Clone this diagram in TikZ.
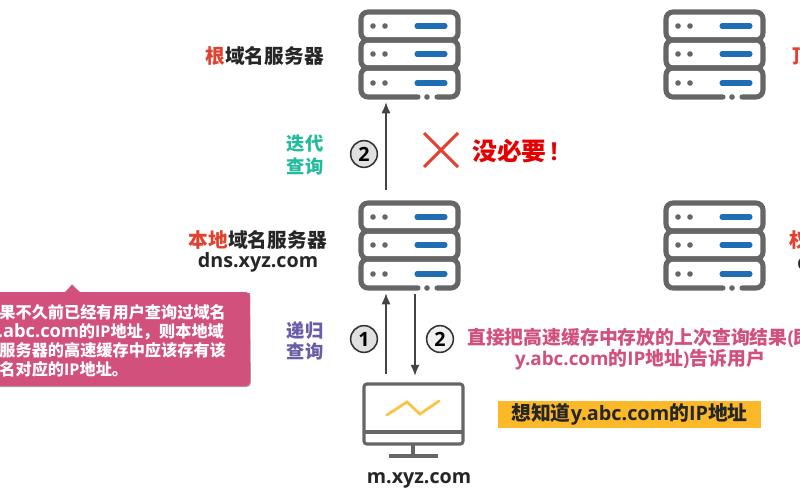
\documentclass[tikz,border=0pt]{standalone}
\usepackage{fontspec}
\usetikzlibrary{arrows.meta}
\setmainfont{Open Sans}
\newfontfamily\cjk{Noto Sans CJK SC}
\newcommand{\zh}[1]{{\cjk #1}}
\definecolor{srvgray}{HTML}{666666}
\definecolor{srvblue}{HTML}{1F6DB4}
\definecolor{hlred}{HTML}{E2412F}
\definecolor{pinkbox}{HTML}{D2507C}
\definecolor{tealtext}{HTML}{22BC9C}
\definecolor{purpletext}{HTML}{6A5CA5}
\definecolor{yellowbox}{HTML}{FBB829}
\definecolor{arrowgray}{HTML}{444444}
\tikzset{
    srvline/.style={line width=3.6pt,draw=srvgray,line cap=round},
    lbl/.style={font=\fontsize{14}{19}\selectfont\bfseries,text=black!85,inner sep=0pt,align=center},
    flow/.style={line width=1.3pt,draw=arrowgray,-{Latex[length=8pt,width=6.5pt]}},
    numcirc/.style={circle,draw=black!80,line width=1.1pt,fill=black!12,minimum size=19pt,inner sep=0pt,font=\fontsize{14}{14}\selectfont\bfseries},
    pics/server/.style={code={
        \fill[white] (0,0) rectangle (97,85);
        \draw[srvline,rounded corners=5pt] (0,0) rectangle (97,28);
        \draw[srvline,rounded corners=5pt] (0,28) rectangle (97,56);
        \draw[srvline,rounded corners=5pt] (57,85) -- (0,85) -- (0,56) -- (97,56) -- (97,85) -- (76,85);
        \fill[srvgray] (66,85) circle (2.8);
        \foreach \y in {14,42,71} {
            \fill[srvgray] (12,\y) circle (2.8) (24,\y) circle (2.8);
            \draw[line width=3.6pt,draw=srvblue,line cap=round] (56,\y) -- (84,\y);
        }
        \coordinate (-in) at (25,-13);
        \coordinate (-outa) at (25,90);
        \coordinate (-outb) at (54,91);
    }},
    pics/host/.style={code={
        \draw[line width=2.2pt,draw=srvgray,rounded corners=2pt] (0,0) rectangle (99,60);
        \draw[line width=2.2pt,draw=srvgray] (0,48) -- (99,48);
        \draw[line width=2.2pt,draw=srvgray] (49,60) -- (49,72);
        \draw[line width=2.2pt,draw=srvgray] (25,72) -- (74,72);
        \draw[line width=2pt,draw=yellowbox!85!white,line cap=round] (23,31) -- (43,18) -- (56,30) -- (75,17);
        \coordinate (-outa) at (22,-10);
        \coordinate (-ina) at (51,-8);
    }}
}
\begin{document}
\begin{tikzpicture}[x=0.025cm,y=-0.025cm]
    \clip (0,0) rectangle (800,500);
    \fill[white] (0,0) rectangle (800,500);

    \pic (root) at (361,12) {server};
    \pic (tld) at (666,12) {server};
    \pic (local) at (361,203) {server};
    \pic (auth) at (666,203) {server};
    \pic (client) at (364,384) {host};

    \node[lbl,anchor=east] (rootlbl) at (324,56) {\zh{\textcolor{hlred}{根}域名服务器}};
    \node[lbl,anchor=west] (tldlbl) at (792,56) {\zh{\textcolor{hlred}{顶}级域名服务器}};
    \node[lbl,anchor=east] (locallbl) at (327,240) {\zh{\textcolor{hlred}{本地}域名服务器}};
    \node[lbl] (localdns) at (258,262) {dns.xyz.com};
    \node[lbl,anchor=west] (authlbl) at (789,240) {\zh{\textcolor{hlred}{权限}域名服务器}};
    \node[lbl,anchor=west] (authdns) at (797,262) {dns.abc.com};
    \node[lbl] (clientlbl) at (419,480) {m.xyz.com};

    \node[lbl,text=tealtext,font=\fontsize{13}{19}\selectfont\bfseries] (iterlbl) at (305,155) {\zh{迭代}\\[-3pt]\zh{查询}};
    \node[lbl,text=purpletext,font=\fontsize{13}{19}\selectfont\bfseries] (reclbl) at (305,341) {\zh{递归}\\[-4pt]\zh{查询}};

    \draw[flow] (local-in) -- (root-outa);
    \draw[flow] (client-outa) -- (local-outa);
    \draw[flow] (local-outb) -- (client-ina);

    \node[numcirc] (stepb) at (364,154) {2};
    \node[numcirc] (stepa) at (364,339) {1};
    \node[numcirc,fill=black!6] (stepc) at (440,339) {2};

    \draw[line width=2.2pt,draw=hlred] (424,133) -- (458,167) (458,133) -- (424,167);
    \node[lbl,anchor=west,text=red!90!black,font=\fontsize{17.6}{20}\selectfont\bfseries] (nouse) at (472,151) {\zh{没必要}\,!};

    \fill[black!35] (-10,293) -- (65,293) -- (72,284) -- (80,293) -- (250,293) [rounded corners=3pt] -- (251,387) -- (-10,387) -- cycle;
    \fill[pinkbox] (-10,292) -- (65,292) -- (72,285) -- (80,292) [rounded corners=3pt] -- (250,292) -- (250,386) [sharp corners] -- (-10,386) -- cycle;
    \node[lbl,anchor=north west,text=white,align=left,font=\fontsize{11.5}{13.6}\selectfont\bfseries] (cachelbl) at (-17,304) {\zh{如果不久前已经有用户查询过域名}\\\hspace{3.5pt}{\fontsize{13}{13.6}\selectfont y.abc.com}\zh{的}IP\zh{地址，则本地域}\\\zh{名服务器的高速缓存中应该存有该}\\\zh{域名对应的}IP\zh{地址。}};

    \node[lbl,text=pinkbox,font=\fontsize{13.4}{15}\selectfont\bfseries] (replylbl) at (640,349) {\zh{直接把高速缓存中存放的上次查询结果}(\zh{即}\\y.abc.com\zh{的}IP\zh{地址})\zh{告诉用户}};

    \node[lbl,fill=yellowbox,minimum width=263*0.025cm,minimum height=27*0.025cm,font=\fontsize{14.1}{15}\selectfont\bfseries] (wantlbl) at (629.5,414.5) {\zh{想知道}y.abc.com\zh{的}IP\zh{地址}};
\end{tikzpicture}
\end{document}
